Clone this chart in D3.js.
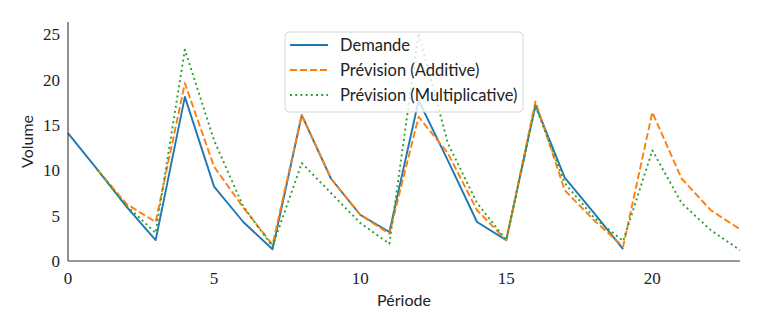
<!DOCTYPE html>
<html>
<head>
<meta charset="utf-8">
<script src="https://cdn.jsdelivr.net/npm/d3@7"></script>
<style>
  body { margin: 0; background: #fff; }
  svg { display: block; }
</style>
</head>
<body>
<div id="chart"></div>
<script>
// Periods 0..23
const periods = d3.range(0, 24);

// Observed demand (periods 0..19)
const demande = [14.1, 10.1, 6.0, 2.3, 18.1, 8.2, 4.3, 1.3, 16.1, 9.1, 5.1, 3.2,
  17.7, 11.1, 4.3, 2.3, 17.2, 9.2, 5.3, 1.3, null, null, null, null];

// Additive Holt-Winters forecast (starts at period 1)
const additive = [null, 10.1, 6.3, 4.3, 19.6, 10.4, 5.9, 1.8, 16.1, 9.1, 5.1, 3.0,
  15.9, 11.9, 5.6, 2.3, 17.6, 7.8, 4.5, 1.6, 16.4, 9.1, 5.6, 3.5];

// Multiplicative Holt-Winters forecast (starts at period 1)
const multiplicative = [null, 10.1, 6.1, 3.1, 23.3, 13.3, 6.0, 1.6, 10.8, 7.5, 4.2, 1.9,
  25.1, 13.0, 6.4, 2.3, 17.1, 8.6, 4.8, 2.2, 12.2, 6.4, 3.4, 1.2];

const xTicks = [0, 5, 10, 15, 20];
const yTicks = [0, 5, 10, 15, 20, 25];

const series = [
  { name: 'Demande', values: demande, color: '#1f77b4', dash: null },
  { name: 'Prévision (Additive)', values: additive, color: '#ff7f0e', dash: '7,3' },
  { name: 'Prévision (Multiplicative)', values: multiplicative, color: '#2ca02c', dash: '2,3.2' }
];

const width = 763, height = 334;
const margin = { top: 22, right: 23, bottom: 73, left: 68 };

const svg = d3.select('#chart')
  .append('svg')
  .attr('width', width)
  .attr('height', height);

const x = d3.scaleLinear()
  .domain([0, 23])
  .range([margin.left, width - margin.right]);

const y = d3.scaleLinear()
  .domain([0, 26.36])
  .range([height - margin.bottom, margin.top]);

// Lines
const line = d3.line()
  .defined(d => d[1] !== null)
  .x(d => x(d[0]))
  .y(d => y(d[1]));

series.forEach(s => {
  svg.append('path')
    .datum(periods.map((p, i) => [p, s.values[i]]))
    .attr('d', line)
    .attr('fill', 'none')
    .attr('stroke', s.color)
    .attr('stroke-width', 1.9)
    .attr('stroke-dasharray', s.dash)
    .attr('stroke-linejoin', 'round');
});

// Spines (left and bottom only)
const axisColor = '#333';
svg.append('line')
  .attr('x1', x(0)).attr('x2', x(0))
  .attr('y1', y(0)).attr('y2', y(26.36))
  .attr('stroke', axisColor).attr('stroke-width', 1.1);
svg.append('line')
  .attr('x1', x(0)).attr('x2', x(23))
  .attr('y1', y(0)).attr('y2', y(0))
  .attr('stroke', axisColor).attr('stroke-width', 1.1);

// Tick labels
const tickFont = '"Liberation Serif", serif';
svg.selectAll('.ytick')
  .data(yTicks)
  .join('text')
  .attr('class', 'ytick')
  .attr('x', x(0) - 8)
  .attr('y', d => y(d))
  .attr('dy', '0.35em')
  .attr('text-anchor', 'end')
  .style('font-family', tickFont)
  .style('font-size', '17px')
  .style('fill', '#222')
  .text(d => d);

svg.selectAll('.xtick')
  .data(xTicks)
  .join('text')
  .attr('class', 'xtick')
  .attr('x', d => x(d))
  .attr('y', y(0) + 17)
  .attr('dy', '0.35em')
  .attr('text-anchor', 'middle')
  .style('font-family', tickFont)
  .style('font-size', '17px')
  .style('fill', '#222')
  .text(d => d);

// Axis titles
const labelFont = 'Lato, "Open Sans", sans-serif';
svg.append('text')
  .attr('x', (x(0) + x(23)) / 2)
  .attr('y', 300)
  .attr('dy', '0.35em')
  .attr('text-anchor', 'middle')
  .style('font-family', labelFont)
  .style('font-size', '16px')
  .style('fill', '#222')
  .text('Période');

svg.append('text')
  .attr('transform', `translate(27, ${(y(0) + y(26.36)) / 2}) rotate(-90)`)
  .attr('dy', '0.35em')
  .attr('text-anchor', 'middle')
  .style('font-family', labelFont)
  .style('font-size', '16px')
  .style('fill', '#222')
  .text('Volume');

// Legend
const legend = svg.append('g').attr('transform', 'translate(285, 32)');
legend.append('rect')
  .attr('width', 238)
  .attr('height', 80)
  .attr('rx', 4)
  .attr('fill', 'rgba(255,255,255,0.8)')
  .attr('stroke', '#d6d6d6')
  .attr('stroke-width', 1);

series.forEach((s, i) => {
  const row = legend.append('g').attr('transform', `translate(0, ${13 + i * 25})`);
  row.append('line')
    .attr('x1', 5).attr('x2', 43)
    .attr('y1', 0).attr('y2', 0)
    .attr('stroke', s.color)
    .attr('stroke-width', 1.9)
    .attr('stroke-dasharray', s.dash);
  row.append('text')
    .attr('x', 55)
    .attr('y', 0)
    .attr('dy', '0.35em')
    .style('font-family', labelFont)
    .style('font-size', '16.5px')
    .style('fill', '#222')
    .text(s.name);
});
</script>
</body>
</html>
